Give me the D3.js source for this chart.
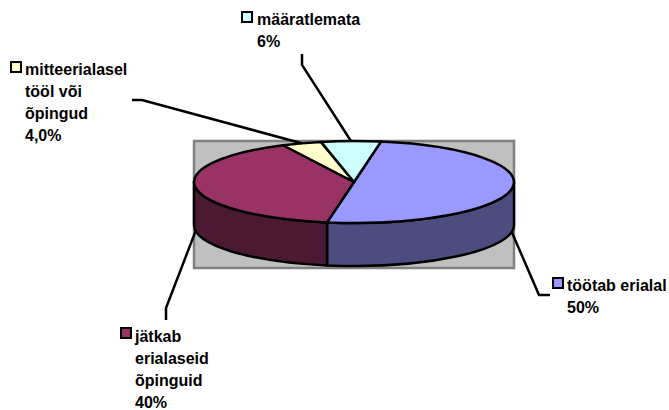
<!DOCTYPE html>
<html>
<head>
<meta charset="utf-8">
<script src="https://cdn.jsdelivr.net/npm/d3@7/dist/d3.min.js"></script>
<style>
html, body { margin: 0; padding: 0; background: #fff; }
svg { display: block; }
text { font-family: "Liberation Sans", Arial, sans-serif; font-weight: bold; font-size: 16px; fill: #000; }
</style>
</head>
<body>
<div id="chart-area"></div>
<script>
const categories = ["töötab erialal", "jätkab erialaseid õpinguid", "mitteerialasel tööl või õpingud", "määratlemata"]
const values = [50, 40, 4, 6]
const valueLabels = ["50%", "40%", "4,0%", "6%"]
const labelLines = [
    ["töötab erialal"],
    ["jätkab", "erialaseid", "õpinguid"],
    ["mitteerialasel", "tööl või", "õpingud"],
    ["määratlemata"]
]
const topColors = ["#9999ff", "#993366", "#ffffcc", "#ccffff"]
const sideColors = ["#4c4c7f", "#4c1933", "#7f7f66", "#667f7f"]

const cw = 669
const ch = 410

// pie ellipse
const cx = 354
const cy = 182
const rx = 160
const ry = 41
const depth = 43
const startDeg = 9.7

// label text x, first baseline, key x/y, and the elbow of the leader line
const labelPos = [
    {x: 567, y: 291, kx: 553, ky: 278, elbow: [[539, 295], [550, 295]]},
    {x: 135, y: 342, kx: 121, ky: 328, elbow: [[166, 308], [166, 320]]},
    {x: 25, y: 75, kx: 11, ky: 62, elbow: [[142, 100], [132, 100]]},
    {x: 257, y: 25, kx: 242, ky: 12, elbow: [[302, 65], [302, 54]]}
]

const svg = d3.select("#chart-area").append("svg")
    .attr("width", cw)
    .attr("height", ch)

// gray plot area behind the pie
svg.append("rect")
    .attr("x", cx - rx)
    .attr("y", cy - ry)
    .attr("width", rx * 2)
    .attr("height", ry * 2 + depth + 2)
    .attr("fill", "#c0c0c0")
    .attr("stroke", "#808080")
    .attr("stroke-width", 2.5)

const pie = d3.pie()
    .sort(null)
    .startAngle(startDeg * Math.PI / 180)
    .endAngle((startDeg + 360) * Math.PI / 180)

const slices = pie(values)

const px = a => cx + rx * Math.sin(a)
const py = a => cy - ry * Math.cos(a)

// front wall of a slice, only the part between 90 and 270 degrees shows
function wallPath(d) {
    const a0 = Math.max(d.startAngle, Math.PI / 2)
    const a1 = Math.min(d.endAngle, Math.PI * 3 / 2)
    if (a1 <= a0) return null
    return `M${px(a0)},${py(a0)}`
        + `A${rx},${ry} 0 0 1 ${px(a1)},${py(a1)}`
        + `L${px(a1)},${py(a1) + depth}`
        + `A${rx},${ry} 0 0 0 ${px(a0)},${py(a0) + depth}Z`
}

svg.selectAll(".wall")
    .data(slices.filter(wallPath))
    .enter()
    .append("path")
    .attr("class", "wall")
    .attr("d", wallPath)
    .attr("fill", d => sideColors[d.index])
    .attr("stroke", "#000")
    .attr("stroke-width", 2.5)
    .attr("stroke-linejoin", "round")

const arc = d3.arc().innerRadius(0).outerRadius(rx)

svg.append("g")
    .attr("transform", `translate(${cx}, ${cy}) scale(1, ${ry / rx})`)
    .selectAll(".slice")
    .data(slices)
    .enter()
    .append("path")
    .attr("class", "slice")
    .attr("d", arc)
    .attr("fill", d => topColors[d.index])
    .attr("stroke", "#000")
    .attr("stroke-width", 2.5)
    .attr("stroke-linejoin", "round")
    .attr("vector-effect", "non-scaling-stroke")

// leader lines start on the rim at the middle of each slice
const line = d3.line()

svg.selectAll(".leader")
    .data(slices)
    .enter()
    .append("path")
    .attr("class", "leader")
    .attr("d", d => {
        const mid = (d.startAngle + d.endAngle) / 2
        const front = Math.cos(mid) < 0 || d.index < 2
        const start = [px(mid), py(mid) + (front ? depth : 0)]
        return line([start].concat(labelPos[d.index].elbow))
    })
    .attr("fill", "none")
    .attr("stroke", "#000")
    .attr("stroke-width", 2.5)

const labels = svg.selectAll(".label")
    .data(slices)
    .enter()
    .append("g")
    .attr("class", "label")

labels.append("rect")
    .attr("x", d => labelPos[d.index].kx)
    .attr("y", d => labelPos[d.index].ky)
    .attr("width", 10)
    .attr("height", 10)
    .attr("fill", d => topColors[d.index])
    .attr("stroke", "#000")
    .attr("stroke-width", 2)

labels.append("text")
    .attr("x", d => labelPos[d.index].x)
    .attr("y", d => labelPos[d.index].y)
    .selectAll("tspan")
    .data(d => labelLines[d.index].concat(valueLabels[d.index]).map(t => ({t: t, x: labelPos[d.index].x})))
    .enter()
    .append("tspan")
    .attr("x", l => l.x)
    .attr("dy", (l, i) => i === 0 ? 0 : 22)
    .text(l => l.t)
</script>
</body>
</html>
